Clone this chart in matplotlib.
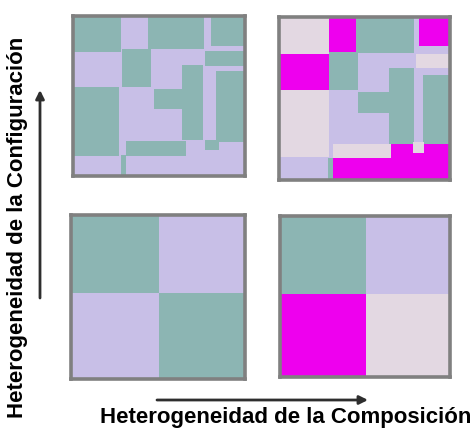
import matplotlib
matplotlib.use("Agg")
import matplotlib.pyplot as plt
from matplotlib.patches import Rectangle

W_PX, H_PX = 473, 428

TEAL = '#8cb5b3'
LAVENDER = '#c8bfe7'
PINK = '#e3d8e2'
MAGENTA = '#ee00ee'
FRAME = '#808080'
ARROW = '#2e2e2e'

# patches as (x0, y0, x1, y1, colour) in panel units, y measured from the top
TOP_LEFT_BG = LAVENDER
TOP_LEFT = [
    (0.000, 0.000, 0.280, 0.225, TEAL),
    (0.438, 0.000, 0.759, 0.204, TEAL),
    (0.803, 0.000, 1.000, 0.187, TEAL),
    (0.286, 0.204, 0.454, 0.446, TEAL),
    (0.767, 0.219, 1.000, 0.314, TEAL),
    (0.635, 0.310, 0.753, 0.777, TEAL),
    (0.832, 0.346, 1.000, 0.788, TEAL),
    (0.000, 0.446, 0.270, 0.877, TEAL),
    (0.473, 0.456, 0.635, 0.580, TEAL),
    (0.310, 0.781, 0.655, 0.877, TEAL),
    (0.767, 0.775, 0.846, 0.841, TEAL),
    (0.280, 0.870, 0.310, 1.000, TEAL),
]

TOP_RIGHT_BG = LAVENDER
TOP_RIGHT = [
    (0.000, 0.000, 0.290, 0.231, PINK),
    (0.290, 0.000, 0.449, 0.216, MAGENTA),
    (0.449, 0.000, 0.787, 0.225, TEAL),
    (0.821, 0.000, 1.000, 0.179, MAGENTA),
    (0.000, 0.231, 0.290, 0.449, MAGENTA),
    (0.290, 0.216, 0.463, 0.449, TEAL),
    (0.801, 0.231, 1.000, 0.314, PINK),
    (0.642, 0.314, 0.787, 0.778, TEAL),
    (0.841, 0.356, 1.000, 0.782, TEAL),
    (0.000, 0.449, 0.290, 0.861, PINK),
    (0.463, 0.459, 0.642, 0.590, TEAL),
    (0.314, 0.778, 0.656, 0.865, PINK),
    (0.656, 0.778, 1.000, 1.000, MAGENTA),
    (0.314, 0.865, 1.000, 1.000, MAGENTA),
    (0.781, 0.767, 0.847, 0.834, PINK),
    (0.284, 0.865, 0.314, 1.000, TEAL),
]

BOTTOM_LEFT_BG = LAVENDER
BOTTOM_LEFT = [
    (0.000, 0.000, 0.507, 0.480, TEAL),
    (0.507, 0.480, 1.000, 1.000, TEAL),
]

BOTTOM_RIGHT_BG = LAVENDER
BOTTOM_RIGHT = [
    (0.000, 0.000, 0.506, 0.485, TEAL),
    (0.000, 0.485, 0.506, 1.000, MAGENTA),
    (0.506, 0.485, 1.000, 1.000, PINK),
]

# panel frames in pixels: left, top, right, bottom
PANELS = [
    ((73, 16, 245, 175.5), TOP_LEFT_BG, TOP_LEFT),
    ((279, 16.5, 450, 180), TOP_RIGHT_BG, TOP_RIGHT),
    ((71, 215, 245, 378.5), BOTTOM_LEFT_BG, BOTTOM_LEFT),
    ((280, 216, 450, 376.5), BOTTOM_RIGHT_BG, BOTTOM_RIGHT),
]

Y_LABEL = "Heterogeneidad de la Configuración"
X_LABEL = "Heterogeneidad de la Composición"


def px_axes(fig, box):
    l, t, r, b = box
    return fig.add_axes([l / W_PX, 1 - b / H_PX, (r - l) / W_PX, (b - t) / H_PX])


def DrawPanel(fig, box, bg, rects):
    ax = px_axes(fig, box)
    ax.set_xlim(0, 1)
    ax.set_ylim(1, 0)
    ax.set_facecolor(bg)
    for x0, y0, x1, y1, c in rects:
        ax.add_patch(Rectangle((x0, y0), x1 - x0, y1 - y0, facecolor=c,
                               edgecolor='none', linewidth=0))
    ax.set_xticks([])
    ax.set_yticks([])
    for s in ax.spines.values():
        s.set_color(FRAME)
        s.set_linewidth(2.6)


if __name__ == "__main__":
    fig = plt.figure(figsize=(W_PX / 100, H_PX / 100), dpi=100)

    # overlay in pixel coordinates for arrows and labels
    base = fig.add_axes([0, 0, 1, 1])
    base.set_xlim(0, W_PX)
    base.set_ylim(H_PX, 0)
    base.axis('off')

    for box, bg, rects in PANELS:
        DrawPanel(fig, box, bg, rects)

    arrow = dict(arrowstyle='-|>,head_length=0.5,head_width=0.25',
                 color=ARROW, lw=2, shrinkA=0, shrinkB=0)
    base.annotate('', xy=(40, 90), xytext=(40, 298), arrowprops=arrow)
    base.annotate('', xy=(368, 400), xytext=(157, 400), arrowprops=arrow)

    font = dict(family=['Liberation Sans', 'DejaVu Sans'], weight='bold',
                fontsize=16, color='black')
    base.text(18, 227, Y_LABEL, rotation=90, ha='center', va='center', **font)
    base.text(286, 417, X_LABEL, ha='center', va='center', **font)

    fig.savefig("out.png", dpi=100)
